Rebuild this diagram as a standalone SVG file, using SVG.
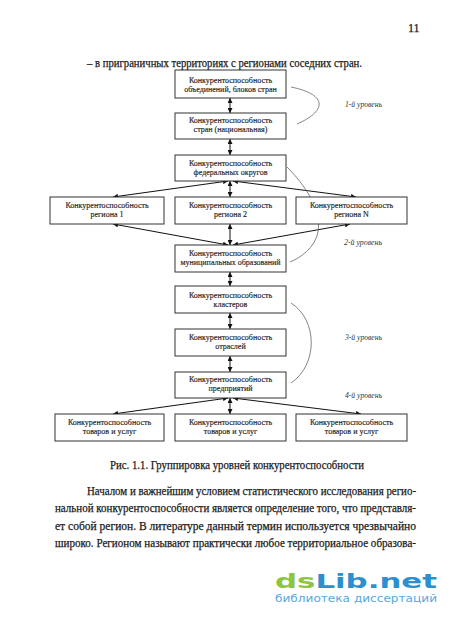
<svg xmlns="http://www.w3.org/2000/svg" width="450" height="618" viewBox="0 0 450 618">
<style>
.bx{fill:#fff;stroke:#333;stroke-width:1}
.bt{font-family:"Liberation Serif",serif;font-size:8px;fill:#222;text-anchor:middle;stroke:#222;stroke-width:0.15}
.lv{font-family:"Liberation Serif",serif;font-size:7.5px;font-style:italic;fill:#333}
.tx{font-family:"Liberation Serif",serif;font-size:12px;fill:#1a1a1a;stroke:#1a1a1a;stroke-width:0.25}
.ar{stroke:#111;stroke-width:1;fill:none;marker-start:url(#ah);marker-end:url(#ah)}
.cv{stroke:#666;stroke-width:0.8;fill:none}
</style>
<defs>
<marker id="ah" viewBox="0 0 10 10" refX="10" refY="5" markerWidth="5" markerHeight="5" orient="auto-start-reverse" markerUnits="userSpaceOnUse">
<path d="M0,0 L10,5 L0,10 z" fill="#111"/>
</marker>
</defs>
<rect width="450" height="618" fill="#fff"/>
<text class="tx" x="408" y="32" font-size="11">11</text>
<text class="tx" x="87" y="67" textLength="275" lengthAdjust="spacingAndGlyphs">– в приграничных территориях с регионами соседних стран.</text>

<g id="connectors">
<line class="ar" x1="230" y1="98" x2="230" y2="113"/>
<line class="ar" x1="230" y1="139" x2="230" y2="155"/>
<line class="ar" x1="228" y1="181" x2="113" y2="197"/>
<line class="ar" x1="230" y1="181" x2="230" y2="197"/>
<line class="ar" x1="233" y1="181" x2="356" y2="197"/>
<line class="ar" x1="113" y1="224" x2="228" y2="245"/>
<line class="ar" x1="230" y1="224" x2="230" y2="245"/>
<line class="ar" x1="350" y1="224" x2="233" y2="245"/>
<line class="ar" x1="230" y1="272" x2="230" y2="286"/>
<line class="ar" x1="230" y1="313" x2="230" y2="329"/>
<line class="ar" x1="230" y1="356" x2="230" y2="372"/>
<line class="ar" x1="228" y1="398" x2="113" y2="414"/>
<line class="ar" x1="230" y1="398" x2="230" y2="414"/>
<line class="ar" x1="233" y1="398" x2="361" y2="414"/>
<path class="cv" d="M291,87 C330,95 325,112 297,124"/>
<path class="cv" d="M287,167 C305,185 322,210 318,232 C315,248 300,258 290,262"/>
<path class="cv" d="M291,303 C318,320 318,365 291,383"/>
</g>

<text class="lv" x="345" y="107" textLength="37" lengthAdjust="spacingAndGlyphs">1-й уровень</text>
<text class="lv" x="344" y="245" textLength="38" lengthAdjust="spacingAndGlyphs">2-й уровень</text>
<text class="lv" x="345" y="340" textLength="37" lengthAdjust="spacingAndGlyphs">3-й уровень</text>
<text class="lv" x="345" y="398" textLength="37" lengthAdjust="spacingAndGlyphs">4-й уровень</text>

<g id="n1"><rect class="bx" x="175" y="70" width="111" height="28"/>
<text class="bt" x="230.5" y="82.5">Конкурентоспособность</text><text class="bt" x="230.5" y="91.5">объединений, блоков стран</text></g>
<g id="n2"><rect class="bx" x="175" y="113" width="111" height="26"/>
<text class="bt" x="230.5" y="123">Конкурентоспособность</text><text class="bt" x="230.5" y="132">стран (национальная)</text></g>
<g id="n3"><rect class="bx" x="175" y="155" width="111" height="26"/>
<text class="bt" x="230.5" y="166">Конкурентоспособность</text><text class="bt" x="230.5" y="175">федеральных округов</text></g>
<g id="r1"><rect class="bx" x="50" y="197" width="114" height="27"/>
<text class="bt" x="107" y="208">Конкурентоспособность</text><text class="bt" x="107" y="216.5">региона 1</text></g>
<g id="r2"><rect class="bx" x="175" y="197" width="111" height="27"/>
<text class="bt" x="230.5" y="208">Конкурентоспособность</text><text class="bt" x="230.5" y="216.5">региона 2</text></g>
<g id="rN"><rect class="bx" x="296" y="197" width="111" height="27"/>
<text class="bt" x="351.5" y="208">Конкурентоспособность</text><text class="bt" x="351.5" y="216.5">региона N</text></g>
<g id="n4"><rect class="bx" x="175" y="245" width="111" height="27"/>
<text class="bt" x="230.5" y="256">Конкурентоспособность</text><text class="bt" x="230.5" y="264.5">муниципальных образований</text></g>
<g id="n5"><rect class="bx" x="175" y="286" width="111" height="27"/>
<text class="bt" x="230.5" y="298">Конкурентоспособность</text><text class="bt" x="230.5" y="306.5">кластеров</text></g>
<g id="n6"><rect class="bx" x="175" y="329" width="111" height="27"/>
<text class="bt" x="230.5" y="340">Конкурентоспособность</text><text class="bt" x="230.5" y="348.5">отраслей</text></g>
<g id="n7"><rect class="bx" x="175" y="372" width="111" height="26"/>
<text class="bt" x="230.5" y="382">Конкурентоспособность</text><text class="bt" x="230.5" y="390.5">предприятий</text></g>
<g id="b1"><rect class="bx" x="55" y="414" width="109" height="27"/>
<text class="bt" x="109.5" y="425">Конкурентоспособность</text><text class="bt" x="109.5" y="433.5">товаров и услуг</text></g>
<g id="b2"><rect class="bx" x="175" y="414" width="111" height="27"/>
<text class="bt" x="230.5" y="425">Конкурентоспособность</text><text class="bt" x="230.5" y="433.5">товаров и услуг</text></g>
<g id="b3"><rect class="bx" x="296" y="414" width="111" height="27"/>
<text class="bt" x="351.5" y="425">Конкурентоспособность</text><text class="bt" x="351.5" y="433.5">товаров и услуг</text></g>

<text class="tx" x="110" y="469" textLength="254" lengthAdjust="spacingAndGlyphs">Рис.  1.1. Группировка уровней конкурентоспособности</text>
<text class="tx" x="87" y="495" textLength="329" lengthAdjust="spacingAndGlyphs">Началом и важнейшим условием статистического исследования регио-</text>
<text class="tx" x="55" y="512" textLength="361" lengthAdjust="spacingAndGlyphs">нальной конкурентоспособности является определение того, что представля-</text>
<text class="tx" x="55" y="530" textLength="361" lengthAdjust="spacingAndGlyphs">ет собой регион. В литературе данный термин используется чрезвычайно</text>
<text class="tx" x="55" y="547" textLength="361" lengthAdjust="spacingAndGlyphs">широко. Регионом называют практически любое территориальное образова-</text>

<text x="275" y="588" font-family="'DejaVu Sans',sans-serif" font-size="20" font-weight="bold" textLength="162" lengthAdjust="spacingAndGlyphs"><tspan fill="#8cc63e">ds</tspan><tspan fill="#2c8fd0">Lib.net</tspan></text>
<text x="275" y="602" font-family="'DejaVu Sans',sans-serif" font-size="11" fill="#5aa6dc" textLength="162" lengthAdjust="spacingAndGlyphs">библиотека диссертаций</text>
</svg>
